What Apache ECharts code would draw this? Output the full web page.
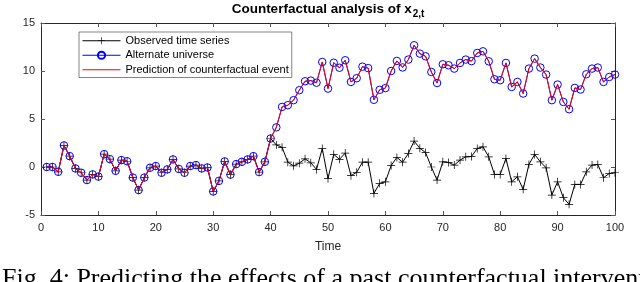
<!DOCTYPE html>
<html>
<head>
<meta charset="utf-8">
<script src="https://cdn.jsdelivr.net/npm/echarts@6/dist/echarts.min.js"></script>
<style>
html,body{margin:0;padding:0;background:#fff;}
#chart{width:640px;height:282px;}
</style>
</head>
<body>
<div id="chart"></div>
<script>
// Observed time series, t = 1..100
var observed = [
  0.0, 0.0, -0.5, 2.25, 1.13, -0.15, -0.6, -1.36, -0.77, -1.0,
  1.34, 0.82, -0.4, 0.72, 0.6, -1.1, -2.4, -1.1, -0.08, 0.1,
  -0.6, -0.25, 0.79, -0.2, -0.6, 0.1, 0.2, -0.15, -0.05, -2.55,
  -1.45, 0.58, -0.8, 0.3, 0.54, 0.79, 1.13, -0.53, 0.54, 2.97,
  2.3, 2.05, 0.5, 0.12, 0.4, 0.85, 0.44, -0.25, 1.92, -1.19,
  1.32, 0.8, 1.45, -0.9, -0.55, 0.5, 0.5, -2.75, -1.7, -1.54,
  0.15, 1.0, 0.5, 1.41, 2.7, 1.95, 1.5, 0.0, -1.36, 0.54,
  0.48, 0.2, 0.72, 1.06, 1.1, 1.93, 2.1, 1.06, -0.77, -0.77,
  0.89, -1.54, -1.02, -2.33, 0.27, 1.31, 0.54, -0.08, -2.92, -1.54,
  -3.2, -3.89, -1.81, -1.81, -0.5, 0.2, 0.27, -1.12, -0.67, -0.6
];
// Intervention time: alternate universe equals observed up to here
var interventionIndex = 40;
// Alternate universe values, t = 41..100
var alternateAfter = [
  4.13, 6.26, 6.44, 6.96, 8.0, 8.93, 9.0, 8.78, 10.94, 8.17,
  10.86, 10.34, 11.12, 8.86, 9.25, 10.45, 10.3, 7.0, 8.04, 8.22,
  10.0, 11.05, 10.37, 11.19, 12.68, 11.81, 11.53, 9.9, 8.75, 10.7,
  10.6, 10.25, 10.84, 11.19, 11.03, 11.88, 12.05, 11.01, 9.14, 9.04,
  10.84, 8.34, 8.86, 7.65, 10.25, 11.29, 10.36, 9.63, 6.96, 8.59,
  6.78, 6.02, 8.24, 8.07, 9.66, 10.25, 10.36, 8.86, 9.38, 9.63
];
var seriesNames = ['Observed time series', 'Alternate universe', 'Prediction of counterfactual event'];
var titleMain = 'Counterfactual analysis of x';
var titleSub = '2,t';
var xLabel = 'Time';
var caption = 'Fig. 4: Predicting the effects of a past counterfactual intervention';
var xTicks = {min: 0, max: 100, interval: 10};
var yTicks = {min: -5, max: 15, interval: 5};

var alternate = observed.slice(0, interventionIndex).concat(alternateAfter);
function pairs(arr){ return arr.map(function(v, i){ return [i + 1, v]; }); }

var FONT = '"Liberation Sans", Arial, Helvetica, sans-serif';
var AX = '#262626';
var plusPath = 'path://M4.55,0 h0.9 v4.55 h4.55 v0.9 h-4.55 v4.55 h-0.9 v-4.55 h-4.55 v-0.9 h4.55 z';
var linePath = 'path://M0,0 h38 v1 h-38 z';

// measure title widths to place subscript
var mctx = document.createElement('canvas').getContext('2d');
var mainFont = 'bold 13.5px ' + FONT;
var subFont = 'bold 10px ' + FONT;
mctx.font = mainFont; var wMain = mctx.measureText(titleMain).width;
mctx.font = subFont; var wSub = mctx.measureText(titleSub).width;
var titleCenter = 328;
var titleLeft = titleCenter - (wMain + wSub + 1) / 2;

var chart = echarts.init(document.getElementById('chart'), null, {renderer: 'canvas'});
function axisCommon(pos, showLabel, t){
  return {
    type: 'value', position: pos, min: t.min, max: t.max, interval: t.interval,
    axisLine: {show: true, onZero: false, lineStyle: {color: AX, width: 1}},
    axisTick: {show: true, inside: true, length: 4, lineStyle: {color: '#555', width: 1}},
    axisLabel: {show: showLabel, color: AX, fontSize: 11, fontFamily: FONT, margin: 7},
    splitLine: {show: false}
  };
}
var xb = axisCommon('bottom', true, xTicks);
xb.name = xLabel; xb.nameLocation = 'middle'; xb.nameGap = 26;
xb.nameTextStyle = {color: AX, fontSize: 12, fontFamily: FONT};
var xt = axisCommon('top', false, xTicks);
var yl = axisCommon('left', true, yTicks);
yl.axisLabel.margin = 6;
var yr = axisCommon('right', false, yTicks);

chart.setOption({
  animation: false,
  backgroundColor: '#fff',
  grid: {left: 41, right: 25, top: 23, bottom: 67},
  xAxis: [xb, xt],
  yAxis: [yl, yr],
  legend: {
    orient: 'vertical', left: 79, top: 32,
    padding: [2, 3, 1, 3], itemGap: 1, itemWidth: 38, itemHeight: 9,
    backgroundColor: '#fff', borderColor: '#333', borderWidth: 0.6,
    lineStyle: {width: 1},
    textStyle: {color: '#000', fontSize: 11, fontFamily: FONT, lineHeight: 13.5},
    data: [
      {name: seriesNames[0]},
      {name: seriesNames[1]},
      {name: seriesNames[2], icon: linePath, itemStyle: {color: '#ff0000'}}
    ]
  },
  graphic: [
    {type: 'text', left: titleLeft, top: 2, style: {text: titleMain, font: mainFont, fill: '#000'}},
    {type: 'text', left: titleLeft + wMain + 1, top: 9, style: {text: titleSub, font: subFont, fill: '#000'}},
    {type: 'text', left: 2, top: 266, style: {text: caption, font: '26px "Liberation Serif", "Times New Roman", serif', fill: '#000'}}
  ],
  series: [
    {
      name: seriesNames[0], type: 'line', data: pairs(observed), z: 2,
      symbol: plusPath, symbolSize: 8, showAllSymbol: true,
      lineStyle: {color: '#000', width: 1}, itemStyle: {color: '#000'}
    },
    {
      name: seriesNames[1], type: 'line', data: pairs(alternate), z: 3,
      symbol: 'circle', symbolSize: 7.5, showAllSymbol: true,
      lineStyle: {color: '#0000ff', width: 1},
      itemStyle: {color: 'rgba(0,0,0,0)', borderColor: '#0000ff', borderWidth: 1}
    },
    {
      name: seriesNames[2], type: 'line', data: pairs(alternate), z: 4,
      symbol: 'none', lineStyle: {color: '#ff0000', width: 1}, itemStyle: {color: '#ff0000'}
    }
  ]
});
</script>
</body>
</html>
